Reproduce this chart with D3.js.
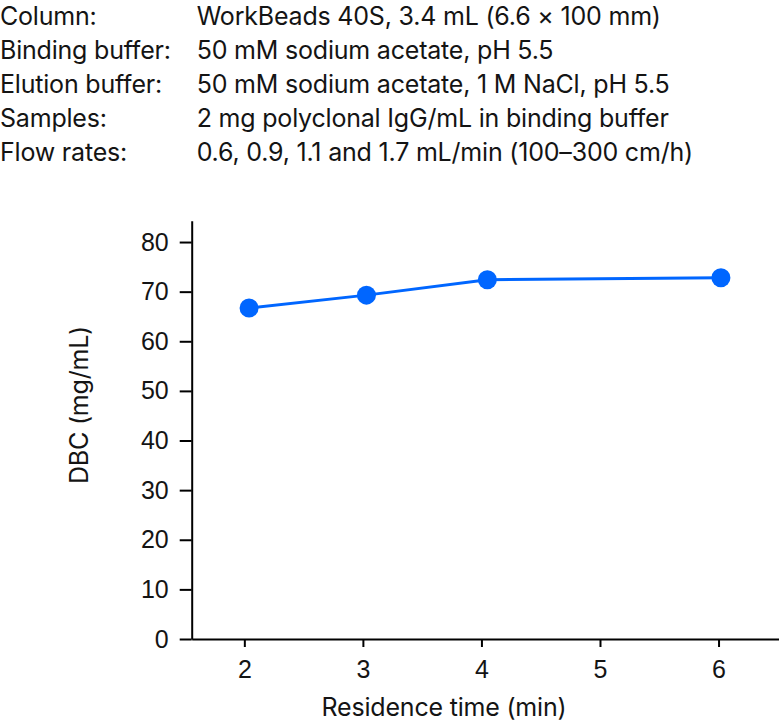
<!DOCTYPE html>
<head>
    <meta charset="utf-8">
    <style>
        body{
            margin:0;
            background:#fff;
        }
        svg{
            display:block;
        }
        .info{
            font-family:'Inter', sans-serif;
            font-size:25px;
            letter-spacing:-0.2px;
            fill:#141414;
        }
        .axis text{
            font-family:'Liberation Sans', Arial, sans-serif;
            font-size:25px;
            fill:#141414;
        }
        .axis line, .axis path{
            stroke:#000;
            stroke-width:2px;
        }
        .title{
            font-family:'Inter', sans-serif;
            font-size:25px;
            letter-spacing:-0.2px;
            fill:#141414;
        }
        .line{
            fill:none;
            stroke:#0066ff;
            stroke-width:3px;
        }
    </style>
</head>
<body>
    <div id="chart"></div>
    <script src="https://d3js.org/d3.v7.min.js"></script>
    <script>
        // conditions listed above the chart
        var infoLabels = ["Column:", "Binding buffer:", "Elution buffer:", "Samples:", "Flow rates:"];
        var infoValues = [
            "WorkBeads 40S, 3.4 mL (6.6 × 100 mm)",
            "50 mM sodium acetate, pH 5.5",
            "50 mM sodium acetate, 1 M NaCl, pH 5.5",
            "2 mg polyclonal IgG/mL in binding buffer",
            "0.6, 0.9, 1.1 and 1.7 mL/min (100–300 cm/h)"
        ];

        // residence time (min) vs dynamic binding capacity (mg/mL)
        var residenceTime = [2.04, 3.03, 4.05, 6.02];
        var dbc = [66.7, 69.3, 72.4, 72.8];

        var xTicks = [2, 3, 4, 5, 6];
        var yTicks = [0, 10, 20, 30, 40, 50, 60, 70, 80];

        var width = 779, height = 722;

        var svg = d3.select("#chart").append("svg")
            .attr("width", width)
            .attr("height", height);

        // header block
        var info = svg.append("g").attr("class", "info");
        info.selectAll("text.lab")
            .data(infoLabels)
            .enter().append("text")
            .attr("class", "lab")
            .attr("x", 0)
            .attr("y", function(d, i) { return 24.5 + i * 34.2; })
            .text(function(d) { return d; });
        info.selectAll("text.val")
            .data(infoValues)
            .enter().append("text")
            .attr("class", "val")
            .attr("x", 196.7)
            .attr("y", function(d, i) { return 24.5 + i * 34.2; })
            .text(function(d) { return d; });

        var x = d3.scaleLinear()
            .domain([1.556, 6.51])
            .range([191.7, 779]);

        var y = d3.scaleLinear()
            .domain([0, 84.3])
            .range([639, 220.7]);

        svg.append("g")
            .attr("class", "x axis")
            .attr("transform", "translate(0," + y(0) + ")")
            .call(d3.axisBottom(x).tickValues(xTicks).tickFormat(d3.format("d"))
                .tickSize(8).tickSizeOuter(0).tickPadding(13));

        svg.append("g")
            .attr("class", "y axis")
            .attr("transform", "translate(" + x(1.556) + ",0)")
            .call(d3.axisLeft(y).tickValues(yTicks).tickFormat(d3.format("d"))
                .tickSize(12).tickSizeOuter(0).tickPadding(11));

        var pts = residenceTime.map(function(t, i) { return {t: t, v: dbc[i]}; });

        svg.append("path")
            .datum(pts)
            .attr("class", "line")
            .attr("d", d3.line()
                .x(function(d) { return x(d.t); })
                .y(function(d) { return y(d.v); }));

        svg.selectAll("circle.pt")
            .data(pts)
            .enter().append("circle")
            .attr("class", "pt")
            .attr("cx", function(d) { return x(d.t); })
            .attr("cy", function(d) { return y(d.v); })
            .attr("r", 9.5)
            .attr("fill", "#0066ff");

        svg.append("text")
            .attr("class", "title")
            .attr("x", 444)
            .attr("y", 716)
            .attr("text-anchor", "middle")
            .text("Residence time (min)");

        svg.append("text")
            .attr("class", "title")
            .attr("transform", "translate(88,405) rotate(-90)")
            .attr("text-anchor", "middle")
            .text("DBC (mg/mL)");
    </script>
</body>
